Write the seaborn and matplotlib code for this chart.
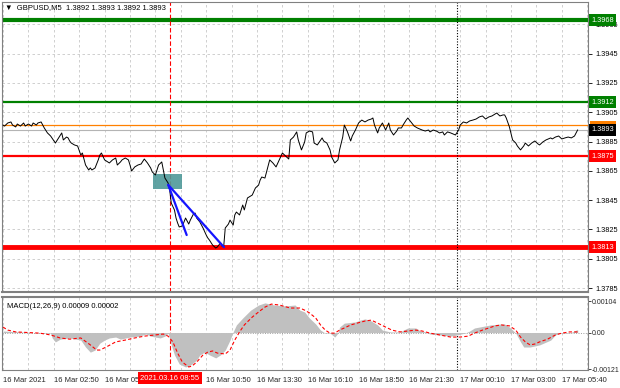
import matplotlib
matplotlib.use("Agg")
import matplotlib.pyplot as plt
import matplotlib.transforms as mtransforms
from matplotlib.patches import Rectangle
import pandas as pd
import seaborn as sns

# ---- values (x = M5 bar number from the left edge) ----
price_bar = [0, 1, 3, 5, 6, 8, 9, 11, 13, 14, 16, 18, 19, 21, 22, 24, 25, 26, 28, 30,
             33, 35, 37, 38, 40, 41, 42, 43, 45, 47, 49, 50, 52, 54, 55, 56, 58, 60, 61, 62,
             64, 66, 67, 69, 71, 72, 74, 75, 77, 79, 80, 81, 83, 85, 87, 89, 91, 93, 94, 96,
             97, 98, 100, 101, 102, 104, 105, 106, 108, 109, 110, 111, 113, 114, 115, 117, 118, 120, 121, 122,
             124, 126, 128, 129, 130, 132, 134, 135, 137, 138, 139, 140, 142, 143, 145, 146, 147, 149, 151, 152,
             154, 157, 159, 161, 162, 163, 165, 166, 168, 170, 172, 174, 176, 178, 180, 181, 183, 185, 186, 188,
             190, 191, 193, 195, 196, 198, 201, 202, 204, 206, 207, 209, 211, 212, 214, 215, 217, 219, 220, 222,
             224, 226, 228, 230, 232, 233, 234, 236, 237, 239, 241, 243, 244, 246, 248, 249, 251, 252, 254, 255,
             257, 259, 261, 264, 266, 268, 269, 271, 273, 275, 277, 278, 280, 282, 285, 287, 288, 290, 292, 294,
             296, 298, 300, 302, 304, 306, 308, 310, 311, 313, 315, 316, 317, 319, 321, 323, 324, 326, 328, 329,
             331, 333, 335, 337, 338, 340, 342, 345, 346, 348, 350, 352, 354, 356, 358, 360, 361, 362]
price_close = [1.38963, 1.38956, 1.38977, 1.38984, 1.38963, 1.38950, 1.38970, 1.38956, 1.38977, 1.38956,
               1.38970, 1.38956, 1.38977, 1.38963, 1.38977, 1.38984, 1.38963, 1.38943, 1.38909, 1.38888,
               1.38840, 1.38875, 1.38909, 1.38861, 1.38881, 1.38875, 1.38854, 1.38840, 1.38827, 1.38820,
               1.38758, 1.38772, 1.38690, 1.38656, 1.38670, 1.38656, 1.38670, 1.38725, 1.38758, 1.38772,
               1.38725, 1.38711, 1.38704, 1.38725, 1.38738, 1.38690, 1.38711, 1.38725, 1.38738, 1.38725,
               1.38690, 1.38649, 1.38677, 1.38690, 1.38697, 1.38731, 1.38704, 1.38670, 1.38643, 1.38622,
               1.38656, 1.38690, 1.38711, 1.38656, 1.38601, 1.38567, 1.38519, 1.38430, 1.38383, 1.38328,
               1.38294, 1.38267, 1.38274, 1.38301, 1.38328, 1.38287, 1.38314, 1.38356, 1.38362, 1.38328,
               1.38301, 1.38260, 1.38212, 1.38192, 1.38178, 1.38144, 1.38123, 1.38130, 1.38158, 1.38137,
               1.38130, 1.38260, 1.38287, 1.38314, 1.38280, 1.38349, 1.38369, 1.38349, 1.38417, 1.38383,
               1.38465, 1.38485, 1.38533, 1.38553, 1.38588, 1.38608, 1.38601, 1.38643, 1.38725, 1.38704,
               1.38677, 1.38725, 1.38772, 1.38752, 1.38731, 1.38861, 1.38881, 1.38916, 1.38861, 1.38793,
               1.38847, 1.38909, 1.38922, 1.38916, 1.38840, 1.38827, 1.38875, 1.38854, 1.38840, 1.38793,
               1.38745, 1.38704, 1.38725, 1.38793, 1.38881, 1.38963, 1.38916, 1.38854, 1.38888, 1.38929,
               1.38977, 1.38997, 1.38984, 1.38997, 1.39004, 1.39011, 1.38963, 1.38909, 1.38943, 1.38977,
               1.38929, 1.38977, 1.38929, 1.38895, 1.38922, 1.38943, 1.38943, 1.38963, 1.38997, 1.39011,
               1.38984, 1.38956, 1.38943, 1.38929, 1.38922, 1.38929, 1.38916, 1.38929, 1.38922, 1.38909,
               1.38916, 1.38895, 1.38916, 1.38909, 1.38895, 1.38929, 1.38963, 1.38984, 1.38977, 1.38991,
               1.38997, 1.39004, 1.39018, 1.39025, 1.39004, 1.39018, 1.39025, 1.39038, 1.39045, 1.39025,
               1.39032, 1.39032, 1.39011, 1.38950, 1.38861, 1.38840, 1.38820, 1.38793, 1.38820, 1.38840,
               1.38820, 1.38840, 1.38854, 1.38834, 1.38827, 1.38847, 1.38861, 1.38875, 1.38868, 1.38881,
               1.38888, 1.38868, 1.38875, 1.38881, 1.38875, 1.38888, 1.38909, 1.38930]

macd_bar = [0, 11, 26, 30, 31, 33, 36, 42, 49, 52, 55, 58, 61, 64, 67, 71, 74, 80, 86, 90,
            93, 96, 99, 102, 104, 106, 108, 111, 115, 118, 122, 124, 127, 130, 134, 137, 140, 143, 145, 147,
            151, 156, 161, 165, 171, 178, 184, 187, 190, 193, 197, 200, 203, 206, 209, 211, 212, 215, 222, 225,
            228, 231, 236, 239, 244, 250, 255, 260, 263, 266, 269, 275, 282, 286, 291, 294, 297, 300, 307, 313,
            316, 319, 323, 326, 328, 332, 338, 345, 348, 351, 357, 361, 362]
macd_hist = [0.00005, 0.00002, -0.00002, -0.00002, -0.00018, -0.00031, -0.00022, -0.00018, -0.00025, -0.00048,
             -0.00065, -0.00058, -0.00035, -0.00025, -0.00018, -0.00015, -0.00022, -0.00015, -0.00012, -0.00005,
             -0.00012, -0.00015, -0.00018, -0.00012, -0.00002, -0.00041, -0.00074, -0.00104, -0.00114, -0.00108,
             -0.00091, -0.00074, -0.00065, -0.00074, -0.00084, -0.00074, -0.00058, -0.00025, 0.00002, 0.00025,
             0.00048, 0.00074, 0.00091, 0.00098, 0.00091, 0.00088, 0.00091, 0.00074, 0.00068, 0.00048,
             0.00028, 0.00008, -0.00002, -0.00002, -0.00015, -0.00002, 0.00018, 0.00031, 0.00035, 0.00041,
             0.00045, 0.00041, 0.00025, 0.00008, 0.00002, 0.00002, 0.00015, 0.00015, 0.00005, 0.00002,
             -0.00005, -0.00008, -0.00012, -0.00008, -0.00002, 0.00005, 0.00015, 0.00018, 0.00025, 0.00028,
             0.00028, 0.00018, -0.00002, -0.00031, -0.00048, -0.00048, -0.00041, -0.00025, -0.00008, -0.00002,
             -0.00002, 0.00008, 0.00009]

signal_bar = [0, 3, 8, 23, 30, 36, 42, 49, 55, 59, 61, 65, 71, 77, 83, 89, 96, 101, 104, 107,
              110, 113, 117, 119, 122, 126, 129, 132, 135, 140, 143, 146, 149, 152, 157, 161, 165, 169, 174, 181,
              187, 190, 193, 197, 200, 203, 206, 209, 212, 215, 219, 223, 228, 232, 236, 241, 245, 250, 255, 260,
              264, 269, 275, 282, 288, 293, 297, 302, 306, 310, 314, 319, 323, 326, 329, 332, 335, 338, 343, 348,
              352, 357, 361, 362]
signal_val = [0.00018, 0.00008, 0.00002, -0.00002, -0.00008, -0.00018, -0.00022, -0.00018, -0.00041, -0.00058,
              -0.00058, -0.00048, -0.00031, -0.00025, -0.00018, -0.00012, -0.00008, -0.00005, -0.00012, -0.00031,
              -0.00068, -0.00098, -0.00114, -0.00111, -0.00098, -0.00074, -0.00065, -0.00061, -0.00068, -0.00071,
              -0.00058, -0.00025, 0.00002, 0.00025, 0.00051, 0.00068, 0.00084, 0.00094, 0.00091, 0.00081,
              0.00081, 0.00074, 0.00065, 0.00048, 0.00025, 0.00008, -0.00002, -0.00002, 0.00008, 0.00015,
              0.00025, 0.00031, 0.00038, 0.00041, 0.00031, 0.00018, 0.00008, 0.00002, 0.00005, 0.00008,
              0.00005, -0.00002, -0.00008, -0.00015, -0.00015, -0.00012, -0.00002, 0.00008, 0.00015, 0.00022,
              0.00025, 0.00022, 0.00008, -0.00015, -0.00031, -0.00041, -0.00038, -0.00031, -0.00022, -0.00008,
              -0.00002, 0.00002, 0.00002, 0.00002]

# the 08:10 label sits under the red time marker, so it shows no text
time_ticks = [0, 32, 64, 96, 128, 160, 192, 224, 256, 288, 320, 352]
time_labels = ["16 Mar 2021", "16 Mar 02:50", "16 Mar 05", "", "16 Mar 10:50",
               "16 Mar 13:30", "16 Mar 16:10", "16 Mar 18:50", "16 Mar 21:30", "17 Mar 00:10",
               "17 Mar 03:00", "17 Mar 05:40"]
price_ticks = [1.3965, 1.3945, 1.3925, 1.3905, 1.3885, 1.3865, 1.3845, 1.3825, 1.3805, 1.3785]
macd_ticks = [0.00104, 0.0, -0.00121]
macd_tick_labels = ["0.00104", "0.00", "-0.00121"]

resist_levels = [1.3968, 1.3912]
support_levels = [1.3875, 1.3813]
ask_level = 1.3896
bid_level = 1.3893
signal_bar_mark = 105.2
day_split_bar = 285.8
entry_box = (94.7, 112.6, 1.38526, 1.38627)
trend_start = (104.1, 1.38554)
trend_ends = [(115.7, 1.38212), (139.2, 1.38129)]

df_price = pd.DataFrame({"bar": price_bar, "close": price_close})
df_hist = pd.DataFrame({"bar": macd_bar, "macd": macd_hist})
df_sig = pd.DataFrame({"bar": signal_bar, "signal": signal_val})

sns.set_style("white")
plt.rcParams["font.family"] = ["Liberation Sans", "DejaVu Sans"]
plt.rcParams["font.size"] = 5.5

W, H = 620, 388
fig = plt.figure(figsize=(W / 100, H / 100), dpi=100)
ax = fig.add_axes([2 / W, 1 - 292 / H, 586 / W, 290 / H])
axm = fig.add_axes([2 / W, 1 - 370 / H, 586 / W, 73 / H], sharex=ax)

xmin, xmax = -0.63, 368.5
GRID = "#c8c8c8"
FRAME = "#808080"
LAB = 5.3

# ---- main price panel ----
for b in range(0, 369, 16):
    for a in (ax, axm):
        a.axvline(b, color=GRID, lw=0.6, ls=(0, (3, 3)), zorder=0)
for p in price_ticks:
    ax.axhline(p, color=GRID, lw=0.6, ls=(0, (3, 3)), zorder=0)

ax.axhline(resist_levels[0], color="#008000", lw=3, zorder=2)
ax.axhline(resist_levels[1], color="#008000", lw=1.6, zorder=2)
ax.axhline(support_levels[0], color="#ff0000", lw=1.6, zorder=2)
ax.axhline(support_levels[1], color="#ff0000", lw=3.5, zorder=2)
ax.axhline(ask_level, color="#ff8000", lw=0.9, zorder=2)
ax.axhline(bid_level, color="#b4b4b4", lw=0.8, zorder=2)

for a in (ax, axm):
    a.axvline(signal_bar_mark, color="#ff0000", lw=0.8, ls=(0, (4, 2)), zorder=2)
    a.axvline(day_split_bar, color="#000000", lw=0.8, ls=(0, (1, 1.5)), zorder=2)

x0, x1, y0, y1 = entry_box
ax.add_patch(Rectangle((x0, y0), x1 - x0, y1 - y0, facecolor="#4f9999",
                       edgecolor="none", alpha=0.9, zorder=3))

sns.lineplot(data=df_price, x="bar", y="close", ax=ax, color="#000000",
             lw=0.7, estimator=None, sort=False, zorder=4)

for xe, ye in trend_ends:
    ax.plot([trend_start[0], xe], [trend_start[1], ye], color="#1515ff", lw=1.6, zorder=5)

ax.set_xlim(xmin, xmax)
ax.set_ylim(1.37823, 1.39803)
ax.yaxis.tick_right()
ax.set_yticks(price_ticks, labels=[f"{p:.4f}" for p in price_ticks])
ax.tick_params(axis="y", length=3, width=0.6, pad=2, labelsize=LAB, colors="#000000")
ax.tick_params(axis="x", bottom=False, labelbottom=False)
ax.set_xlabel("")
ax.set_ylabel("")
for s in ax.spines.values():
    s.set_color(FRAME)
    s.set_linewidth(0.8)
ax.spines["bottom"].set_linewidth(1.5)

trans = mtransforms.blended_transform_factory(ax.transAxes, ax.transData)
# the ask label is mostly hidden behind the bid label: only its box edge shows
ax.add_patch(Rectangle((1.004, ask_level - 0.00005), 0.043, 0.00036, transform=trans,
                       facecolor="#ff8000", edgecolor="none", clip_on=False, zorder=9))
right_labels = [(resist_levels[0], "#008000"), (resist_levels[1], "#008000"),
                (support_levels[0], "#ff0000"), (support_levels[1], "#ff0000"), (bid_level, "#000000")]
for val, col in right_labels:
    ax.text(1.005, val, f"{val:.4f}", transform=trans, ha="left", va="center",
            color="white", fontsize=LAB, zorder=10,
            bbox=dict(boxstyle="square,pad=0.32", fc=col, ec="none"))

fig.text(5 / W, 1 - 8 / H, "\u25bc  GBPUSD,M5  1.3892 1.3893 1.3892 1.3893",
         ha="left", va="center", fontsize=5.5, color="#000000")

# ---- MACD panel ----
axm.axhline(0, color="#a0a0a0", lw=0.7, ls=(0, (1, 1.5)), zorder=1)
axm.fill_between(df_hist["bar"], df_hist["macd"], 0, color="#c0c0c0", lw=0, zorder=2)
sns.lineplot(data=df_sig, x="bar", y="signal", ax=axm, color="#ff0000",
             lw=0.8, ls=(0, (3, 2)), estimator=None, sort=False, zorder=3)

axm.set_ylim(-0.00124, 0.001175)
axm.yaxis.tick_right()
axm.set_yticks(macd_ticks, labels=macd_tick_labels)
axm.tick_params(axis="y", length=2, width=0.6, pad=1, labelsize=5)
axm.set_xticks(time_ticks, labels=time_labels)
for lab in axm.get_xticklabels():
    lab.set_ha("left")
axm.tick_params(axis="x", length=3, width=0.6, pad=2, labelsize=5.5, direction="out")
axm.set_xlabel("")
axm.set_ylabel("")
for s in axm.spines.values():
    s.set_color(FRAME)
    s.set_linewidth(0.8)
axm.spines["top"].set_linewidth(1.5)

axm.text(5 / 586, 1 - 9 / 73, "MACD(12,26,9) 0.00009 0.00002", transform=axm.transAxes,
         ha="left", va="center", fontsize=5.5, color="#000000")

tx = mtransforms.blended_transform_factory(axm.transData, axm.transAxes)
axm.text(signal_bar_mark, -8 / 73, "2021.03.16 08:55", transform=tx, ha="center", va="center",
         color="white", fontsize=5.5, zorder=10,
         bbox=dict(boxstyle="square,pad=0.3", fc="#ff0000", ec="none"))

fig.savefig("out.png", dpi=100, facecolor="white")
